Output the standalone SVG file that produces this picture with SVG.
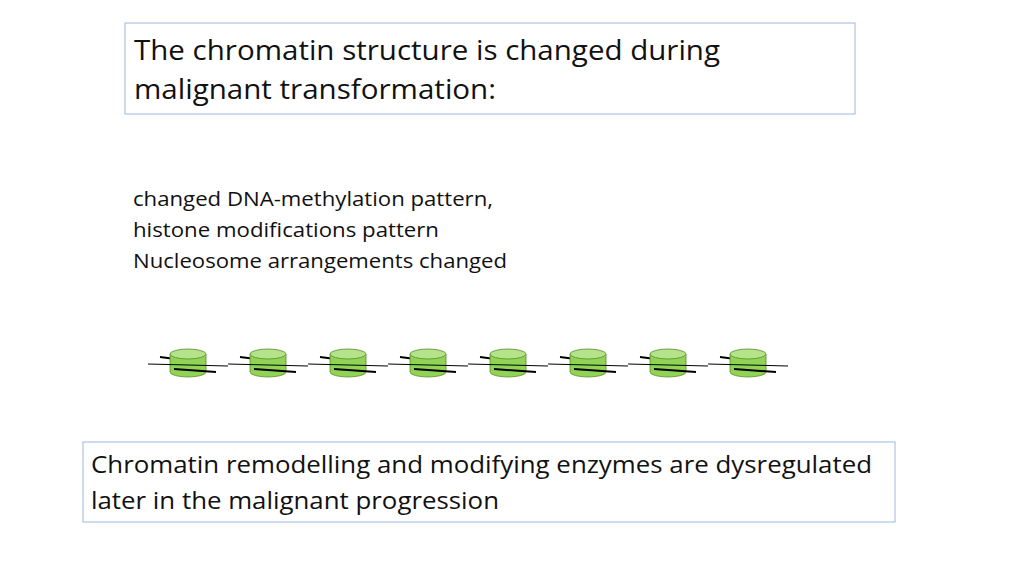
<svg xmlns="http://www.w3.org/2000/svg" width="1024" height="576" viewBox="0 0 1024 576">
<style>
.box{fill:#fff;stroke:#9db8d9;stroke-width:1}
.t{font-family:"Open Sans","Liberation Sans",sans-serif;fill:#111}
.cyl{fill:#8fd454;stroke:#5c8a2e;stroke-width:0.8}
.top{fill:#b4e48a;stroke:#5c8a2e;stroke-width:0.8}
.dna{stroke:#000;fill:none}
</style>
<defs>
<g id="nuc">
<path class="dna" stroke-width="2" d="M-28,-7 L18,-1"/>
<path class="cyl" d="M-18,-10 L-18,8 A18,5 0 0 0 18,8 L18,-10 Z"/>
<ellipse class="top" cx="0" cy="-10" rx="18" ry="5"/>
<path class="dna" stroke-width="1" d="M-40,0 L40,2"/>
<path class="dna" stroke-width="2" d="M-14,5 L28,8"/>
</g>
</defs>
<g id="title"><rect class="box" x="125" y="23" width="730" height="91"/>
<text class="t" x="134" y="60" font-size="27" textLength="586" lengthAdjust="spacingAndGlyphs">The chromatin structure is changed during</text>
<text class="t" x="134" y="99" font-size="27" textLength="362" lengthAdjust="spacingAndGlyphs">malignant transformation:</text></g>
<g id="list">
<text class="t" x="133" y="206" font-size="20" textLength="360" lengthAdjust="spacingAndGlyphs">changed DNA-methylation pattern,</text>
<text class="t" x="133" y="237" font-size="20" textLength="306" lengthAdjust="spacingAndGlyphs">histone modifications pattern</text>
<text class="t" x="133" y="268" font-size="20" textLength="374" lengthAdjust="spacingAndGlyphs">Nucleosome arrangements changed</text></g>
<g id="nucleosomes">
<use href="#nuc" x="188" y="364"/><use href="#nuc" x="268" y="364"/><use href="#nuc" x="348" y="364"/><use href="#nuc" x="428" y="364"/>
<use href="#nuc" x="508" y="364"/><use href="#nuc" x="588" y="364"/><use href="#nuc" x="668" y="364"/><use href="#nuc" x="748" y="364"/>
</g>
<g id="bottom"><rect class="box" x="83" y="442" width="812" height="80"/>
<text class="t" x="91" y="473" font-size="24" textLength="781" lengthAdjust="spacingAndGlyphs">Chromatin remodelling and modifying enzymes are dysregulated</text>
<text class="t" x="91" y="509" font-size="24" textLength="408" lengthAdjust="spacingAndGlyphs">later in the malignant progression</text></g>
<g id="connectors"/>
</svg>
